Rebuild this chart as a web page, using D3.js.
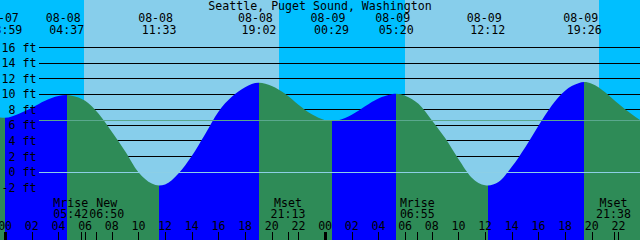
<!DOCTYPE html>
<html>
<head>
<meta charset="utf-8">
<script src="https://cdn.jsdelivr.net/npm/d3@7"></script>
<style>
  body { margin: 0; background: #fff; }
  #chart { width: 640px; height: 240px; }
  #chart text { font-family: "DejaVu Sans Mono", monospace; font-size: 11.6px; fill: #000; }
</style>
</head>
<body>
<div id="chart"></div>
<script>
const title = "Seattle, Puget Sound, Washington";

// window shown on the graph
const viewStart = "2021-08-07 23:37";
const viewEnd = "2021-08-09 23:37";

// high / low tides (feet)
const tideTimes = [
  "2021-08-07 23:59", "2021-08-08 04:37", "2021-08-08 11:33", "2021-08-08 19:02",
  "2021-08-09 00:29", "2021-08-09 05:20", "2021-08-09 12:12", "2021-08-09 19:26",
];
const tideHeights = [6.9, 9.85, -1.8, 11.4, 6.5, 10.0, -1.8, 11.5];

// water level every hour, starting 08-07 23:00
const levelStart = "2021-08-07 23:00";
const hourlyLevels = [
  7.2, 6.9, 7.4, 8.2, 9.1, 9.7, 9.75, 9.1, 7.45, 5.1,
  2.6, -0.1, -1.55, -1.66, -0.25, 2.0, 4.8, 7.7, 9.6, 10.85,
  11.4, 11.0, 10.0, 8.6, 7.35, 6.6, 6.6, 7.3, 8.4, 9.4,
  9.95, 9.75, 8.7, 6.6, 4.3, 1.6, -0.8, -1.77, -1.36, 0.6,
  3.1, 5.9, 8.5, 10.4, 11.35, 11.3, 10.2, 8.7, 7.35, 6.2,
];

// sunrise, sunset, sunrise, sunset
const sunTimes = ["2021-08-08 05:56", "2021-08-08 20:33", "2021-08-09 05:58", "2021-08-09 20:33"];

const moonNames = ["Mrise", "New", "Mset", "Mrise", "Mset"];
const moonTimes = ["2021-08-08 05:42", "2021-08-08 06:50", "2021-08-08 21:13", "2021-08-09 06:55", "2021-08-09 21:38"];

const depthTicks = [16, 14, 12, 10, 8, 6, 4, 2, 0, -2];
const meanSeaLevel = 6.6;

const colors = {
  day: "#87ceeb", night: "#00bfff",
  rise: "#0000ff", fall: "#2e8b57",
  msl: "#5aa88e", datum: "#8ccfe6",
};

const parse = d3.utcParse("%Y-%m-%d %H:%M");
const width = 640, height = 240;
const charW = 7;
const plotLeft = 39;

const x = d3.scaleUtc().domain([parse(viewStart), parse(viewEnd)]).range([0, width]);
const y = d3.scaleLinear().domain([0, 16]).range([171.5, 47.1]);

const svg = d3.select("#chart").append("svg")
  .attr("width", width).attr("height", height);

// sky: night before first sunrise, then alternating
const sunEdges = [x.domain()[0], ...sunTimes.map(parse), x.domain()[1]];
svg.append("g").selectAll("rect")
  .data(d3.pairs(sunEdges))
  .join("rect")
  .attr("x", (d) => x(d[0]))
  .attr("width", (d) => x(d[1]) - x(d[0]))
  .attr("y", 0).attr("height", height)
  .attr("fill", (d, i) => (i % 2 === 0 ? colors.night : colors.day))
  .attr("shape-rendering", "crispEdges");

// depth lines (hidden under the water)
svg.append("g").selectAll("line")
  .data(depthTicks)
  .join("line")
  .attr("x1", plotLeft).attr("x2", width)
  .attr("y1", (d) => Math.round(y(d)) + 0.5)
  .attr("y2", (d) => Math.round(y(d)) + 0.5)
  .attr("stroke", "#000")
  .attr("shape-rendering", "crispEdges");

// water curve
const points = hourlyLevels
  .map((v, i) => ({ t: d3.utcHour.offset(parse(levelStart), i), v }))
  .concat(tideTimes.map((t, i) => ({ t: parse(t), v: tideHeights[i] })))
  .sort((a, b) => a.t - b.t);

const area = d3.area()
  .x((d) => x(d.t))
  .y0(height)
  .y1((d) => y(d.v))
  .curve(d3.curveMonotoneX);

svg.append("clipPath").attr("id", "water")
  .append("path").attr("d", area(points));

const tideEdges = [x.domain()[0], ...tideTimes.map(parse), x.domain()[1]];
const isHigh = tideHeights.map((h, i) => {
  const n = i > 0 ? tideHeights[i - 1] : tideHeights[i + 1];
  return h > n;
});
svg.append("g").attr("clip-path", "url(#water)")
  .selectAll("rect")
  .data(d3.pairs(tideEdges))
  .join("rect")
  .attr("x", (d) => x(d[0]))
  .attr("width", (d) => x(d[1]) - x(d[0]))
  .attr("y", 0).attr("height", height)
  .attr("fill", (d, i) => {
    // segment i ends at tide i; rising when that tide is a high
    const rising = i < tideHeights.length ? isHigh[i] : !isHigh[i - 1];
    return rising ? colors.rise : colors.fall;
  })
  .attr("shape-rendering", "crispEdges");

// mean sea level and datum lines
svg.append("g").selectAll("line")
  .data([{ v: meanSeaLevel, c: colors.msl }, { v: 0, c: colors.datum }])
  .join("line")
  .attr("x1", plotLeft).attr("x2", width)
  .attr("y1", (d) => Math.round(y(d.v)) + 0.5)
  .attr("y2", (d) => Math.round(y(d.v)) + 0.5)
  .attr("stroke", (d) => d.c)
  .attr("shape-rendering", "crispEdges");

// depth labels
svg.append("g").selectAll("text")
  .data(depthTicks)
  .join("text")
  .attr("x", 36.5)
  .attr("y", (d) => y(d) + 4.6)
  .attr("text-anchor", "end")
  .text((d) => `${d} ft`);

// title
svg.append("text")
  .attr("x", width / 2).attr("y", 10)
  .attr("text-anchor", "middle")
  .text(title);

// tide times along the top
const fmtDate = d3.utcFormat("%m-%d");
const fmtTime = d3.utcFormat("%H:%M");
const tideLabels = svg.append("g").selectAll("g")
  .data(tideTimes.map(parse))
  .join("g")
  .attr("transform", (d) => `translate(${x(d)},0)`);
tideLabels.append("text")
  .attr("x", -charW / 2).attr("y", 21.7)
  .attr("text-anchor", "middle")
  .text(fmtDate);
tideLabels.append("text")
  .attr("y", 34)
  .attr("text-anchor", "middle")
  .text(fmtTime);

// moon events, pushed apart when they would overlap
const moon = moonTimes.map((t, i) => ({ t: parse(t), name: moonNames[i] }));
moon.forEach((d) => (d.lx = x(d.t)));
const labelW = 5 * charW + 1;
for (let i = 1; i < moon.length; i++) {
  const gap = moon[i].lx - moon[i - 1].lx;
  if (gap < labelW) {
    const push = (labelW - gap) / 2;
    moon[i - 1].lx -= push;
    moon[i].lx += push;
  }
}
const moonLabels = svg.append("g").selectAll("g")
  .data(moon)
  .join("g")
  .attr("transform", (d) => `translate(${d.lx},0)`)
  .attr("text-anchor", "middle");
moonLabels.append("text").attr("y", 206.7).text((d) => d.name);
moonLabels.append("text").attr("y", 217.7).text((d) => fmtTime(d.t));

// hour axis
const hours = x.ticks(d3.utcHour.every(2));
svg.append("g").selectAll("text")
  .data(hours)
  .join("text")
  .attr("x", (d) => x(d))
  .attr("y", 229.5)
  .attr("text-anchor", "middle")
  .text(d3.utcFormat("%H"));

svg.append("g").selectAll("line")
  .data(hours.concat(moon.map((d) => d.t)))
  .join("line")
  .attr("x1", (d) => Math.round(x(d)) + 0.5)
  .attr("x2", (d) => Math.round(x(d)) + 0.5)
  .attr("y1", 232).attr("y2", height)
  .attr("stroke", "#000")
  .attr("stroke-width", (d) => (d.getUTCHours() === 0 && d.getUTCMinutes() === 0 ? 3 : 1))
  .attr("shape-rendering", "crispEdges");
</script>
</body>
</html>
